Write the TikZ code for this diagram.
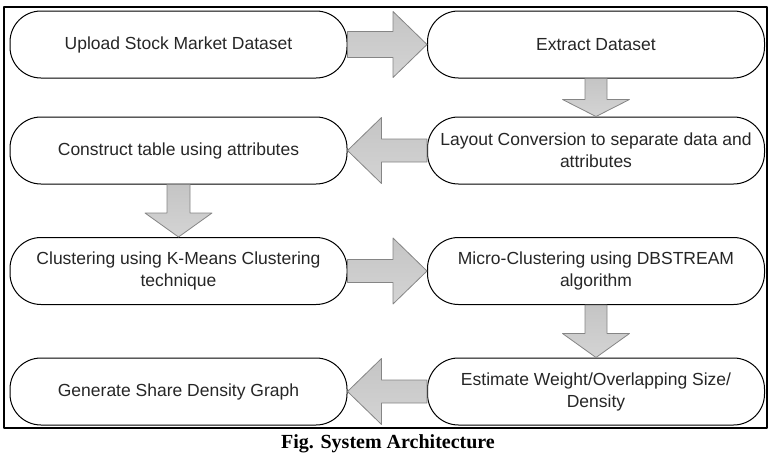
\documentclass[tikz,border=0pt]{standalone}
\usepackage{fontspec}
\setmainfont{Liberation Sans}
\newfontfamily\captionfont{Liberation Serif}
\usetikzlibrary{calc}

\definecolor{arrowfill}{HTML}{CFCFCF}
\definecolor{arrowedge}{HTML}{858585}

% fat block arrow between two anchors:
% #1 from, #2 to, #3 shaft half width, #4 head half width, #5 head length
\newcommand{\fatarrow}[5]{%
    \draw[fatarrow] let \p1=(#1), \p2=(#2),
        \n1={veclen(\x2-\x1,\y2-\y1)}, \n2={atan2(\y2-\y1,\x2-\x1)} in
        [shift={(\p1)}, rotate=\n2]
        (0,#3) -- ({\n1-#5},#3) -- ({\n1-#5},#4) -- (\n1,0)
        -- ({\n1-#5},-#4) -- ({\n1-#5},-#3) -- (0,-#3) -- cycle;
}

\begin{document}
\begin{tikzpicture}[x=1pt, y=1pt, line join=round]

% --- Styles ---
\tikzset{
    stagebox/.style={
        draw=black,
        line width=1pt,
        rounded corners=31pt,
        minimum width=337pt,
        minimum height=67pt,
        inner sep=0pt,
        align=center,
        text=black!85,
        font=\fontsize{17.5}{22}\selectfont
    },
    fatarrow/.style={
        draw=arrowedge,
        line width=0.8pt,
        top color=arrowfill!95!black,
        bottom color=arrowfill!90!white
    },
    frame/.style={
        draw=black,
        line width=1.4pt
    }
}

\useasboundingbox (0,0) rectangle (772,-458);

% --- Outer frame ---
\draw[frame] (4,-7) rectangle (767,-428);

% --- Stages ---
\node[stagebox] (upload)   at (178.5,-44.5) {Upload Stock Market Dataset};
\node[stagebox] (extract)  at (596,-44.5)   {Extract Dataset};
\node[stagebox] (layout)   at (596,-150.5)  {Layout Conversion to separate data and\\attributes};
\node[stagebox] (table)    at (178.5,-150.5){Construct table using attributes};
\node[stagebox] (kmeans)   at (178.5,-271)  {Clustering using K-Means Clustering\\technique};
\node[stagebox] (micro)    at (596,-271)    {Micro-Clustering using DBSTREAM\\algorithm};
\node[stagebox] (estimate) at (596,-391.5)  {Estimate Weight/Overlapping Size/\\Density};
\node[stagebox] (graph)    at (178.5,-391.5){Generate Share Density Graph};

% --- Block arrows ---
\fatarrow{upload.east}{extract.west}{13}{33}{34}
\fatarrow{extract.south}{layout.north}{11}{33.5}{17}
\fatarrow{layout.west}{table.east}{11.5}{33}{34}
\fatarrow{table.south}{kmeans.north}{11.5}{33.5}{24}
\fatarrow{kmeans.east}{micro.west}{11.5}{33}{34}
\fatarrow{micro.south}{estimate.north}{11}{33.5}{24}
\fatarrow{estimate.west}{graph.east}{11.5}{33}{34}

% --- Caption ---
\node[font=\captionfont\bfseries\fontsize{20}{24}\selectfont, anchor=base] (caption)
    at (388,-448) {Fig. System Architecture};

\end{tikzpicture}
\end{document}
